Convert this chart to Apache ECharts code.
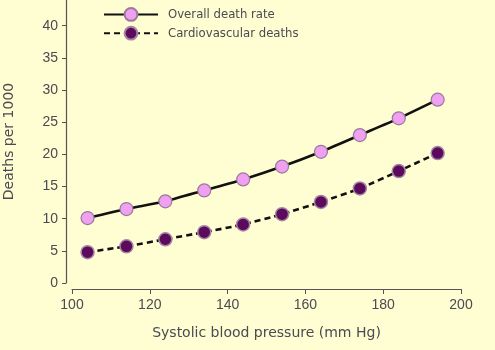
<!DOCTYPE html>
<html>
<head>
<meta charset="utf-8">
<script src="https://cdn.jsdelivr.net/npm/echarts@6/dist/echarts.min.js"></script>
<style>
  html, body { margin: 0; padding: 0; background: #fffdd2; }
  #chart { width: 495px; height: 350px; }
</style>
</head>
<body>
<div id="chart"></div>
<script>
// blood pressure groups (mm Hg)
const pressure = [104, 114, 124, 134, 144, 154, 164, 174, 184, 194]
// deaths per 1000
const overall = [10.1, 11.5, 12.7, 14.4, 16.1, 18.1, 20.4, 23.0, 25.6, 28.5]
const cardio = [4.8, 5.7, 6.8, 7.9, 9.1, 10.7, 12.6, 14.7, 17.4, 20.2]
const yTicks = [0, 5, 10, 15, 20, 25, 30, 35, 40]

const textColor = '#4a4a52'
const tickFont = 'Liberation Sans'
const nameFont = 'DejaVu Sans'

const chart = echarts.init(document.getElementById('chart'))

const pairs = arr => pressure.map((p, i) => [p, arr[i]])

const option = {
  backgroundColor: '#fffdd2',
  animation: false,
  textStyle: { fontFamily: tickFont, color: textColor },
  grid: { left: 72, right: 34, top: 0, bottom: 67, outerBoundsMode: 'none', containLabel: false },
  legend: {
    left: 98,
    top: 2,
    orient: 'vertical',
    itemWidth: 54,
    itemHeight: 16,
    itemGap: 4,
    textStyle: { fontFamily: 'DejaVu Sans Condensed', fontSize: 13, color: textColor, padding: [0, 0, 0, 5] },
    data: ['Overall death rate', 'Cardiovascular deaths']
  },
  xAxis: {
    type: 'value',
    min: 100,
    max: 200,
    interval: 20,
    offset: 6,
    name: 'Systolic blood pressure (mm Hg)',
    nameLocation: 'middle',
    nameGap: 37,
    nameTextStyle: { fontFamily: nameFont, fontSize: 14, color: textColor },
    axisLine: { onZero: false, lineStyle: { color: '#555', width: 1.2 } },
    axisTick: { length: 5, lineStyle: { color: '#555' } },
    axisLabel: { fontSize: 14, color: textColor, margin: 9 },
    splitLine: { show: false }
  },
  yAxis: {
    type: 'value',
    min: 0,
    max: 44,
    offset: 6,
    name: 'Deaths per 1000',
    nameLocation: 'middle',
    nameGap: 50,
    nameTextStyle: { fontFamily: nameFont, fontSize: 14, color: textColor },
    axisLine: { show: true, lineStyle: { color: '#555', width: 1.2 } },
    axisTick: { show: true, length: 4, customValues: yTicks, lineStyle: { color: '#555' } },
    axisLabel: { fontSize: 14, color: textColor, margin: 8, customValues: yTicks },
    splitLine: { show: false }
  },
  series: [
    {
      name: 'Overall death rate',
      type: 'line',
      data: pairs(overall),
      smooth: 0.2,
      symbol: 'circle',
      symbolSize: 13,
      lineStyle: { color: '#111', width: 2.6 },
      itemStyle: { color: '#f0a0f0', borderColor: '#9a7a9a', borderWidth: 1.2 }
    },
    {
      name: 'Cardiovascular deaths',
      type: 'line',
      data: pairs(cardio),
      smooth: 0.2,
      symbol: 'circle',
      symbolSize: 13,
      lineStyle: { color: '#111', width: 2.6, type: [6, 4] },
      itemStyle: { color: '#5c0a5c', borderColor: '#a585a5', borderWidth: 1.5 }
    }
  ]
}

chart.setOption(option)
</script>
</body>
</html>
